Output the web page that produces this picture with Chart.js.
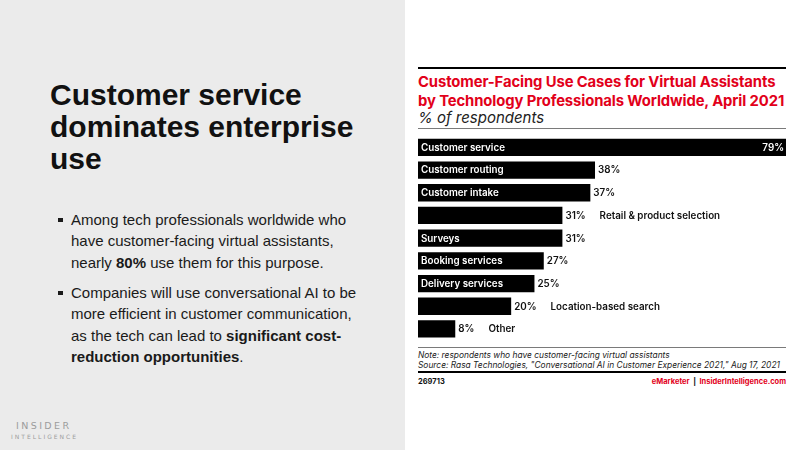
<!DOCTYPE html>
<html>
<head>
<meta charset="utf-8">
<script src="https://cdn.jsdelivr.net/npm/chart.js@4.4.1/dist/chart.umd.min.js"></script>
<style>
    html, body { margin: 0; padding: 0; }
    body { width: 800px; height: 450px; overflow: hidden; position: relative; background: #fff; }
    .left { position: absolute; left: 0; top: 0; width: 405px; height: 450px; background: #ebebeb; font-family: "Liberation Sans", Arial, sans-serif; color: #111; }
    .headline { position: absolute; left: 50px; top: 79px; font-size: 30px; font-weight: bold; line-height: 32px; }
    .bullets { position: absolute; left: 71px; top: 208.5px; width: 290px; font-size: 15px; line-height: 21.5px; color: #1a1a1a; }
    .bullets p { margin: 0 0 8.5px 0; position: relative; }
    .bullets p::before { content: ""; position: absolute; left: -13px; top: 9px; width: 4.5px; height: 4.5px; background: #1a1a1a; }
    .logo1 { position: absolute; left: 16px; top: 420px; font-size: 9.5px; letter-spacing: 2.4px; color: #9c9c9c; font-family: "DejaVu Sans", sans-serif; }
    .logo2 { position: absolute; left: 11px; top: 432.5px; font-size: 6px; letter-spacing: 2px; color: #9c9c9c; font-family: "DejaVu Sans", sans-serif; }
    .right { position: absolute; left: 405px; top: 0; width: 395px; height: 450px; background: #fff; }
    .chart-text { font-family: Inter, "Noto Sans", sans-serif; }
    .rule { position: absolute; left: 418px; width: 368px; }
    .title { position: absolute; left: 418px; top: 72.8px; font-size: 14.8px; font-weight: 700; line-height: 19px; color: #e2001a; white-space: nowrap; letter-spacing: -0.1px; }
    .subtitle { position: absolute; left: 418px; top: 107.5px; font-size: 15px; font-style: italic; color: #222; white-space: nowrap; }
    .note { position: absolute; left: 418px; top: 350px; font-size: 8.4px; font-style: italic; line-height: 10px; color: #222; white-space: nowrap; }
    .chartid { position: absolute; left: 418px; top: 376.5px; font-size: 7.5px; font-weight: 700; color: #111; }
    .brand { position: absolute; right: 14px; top: 376.5px; font-size: 7.5px; font-weight: 700; color: #111; }
    .brand .red { color: #e2001a; }
    .chart-box { position: absolute; left: 418px; top: 135.6px; width: 368px; height: 204.3px; }
</style>
</head>
<body>
<div class="left">
    <div class="headline">Customer service<br>dominates enterprise<br>use</div>
    <div class="bullets">
        <p>Among tech professionals worldwide who have customer-facing virtual assistants, nearly <b>80%</b> use them for this purpose.</p>
        <p>Companies will use conversational AI to be more efficient in customer communication, as the tech can lead to <b>significant cost-reduction opportunities</b>.</p>
    </div>
    <div class="logo1">INSIDER</div>
    <div class="logo2">INTELLIGENCE</div>
</div>
<div class="right"></div>

<div class="rule" style="top:67px;height:2px;background:#000;"></div>
<div class="title chart-text">Customer-Facing Use Cases for Virtual Assistants<br>by Technology Professionals Worldwide, April 2021</div>
<div class="subtitle chart-text">% of respondents</div>
<div class="rule" style="top:128px;height:1px;background:#7a7a7a;"></div>

<div class="chart-box"><canvas id="useCasesChart"></canvas></div>

<div class="rule" style="top:347px;height:1px;background:#7a7a7a;"></div>
<div class="note chart-text">Note: respondents who have customer-facing virtual assistants<br>Source: Rasa Technologies, "Conversational AI in Customer Experience 2021," Aug 17, 2021</div>
<div class="rule" style="top:371px;height:2px;background:#000;"></div>
<div class="chartid chart-text">269713</div>
<div class="brand chart-text"><span class="red">eMarketer</span> &nbsp;|&nbsp; <span class="red">InsiderIntelligence.com</span></div>

<script>
const categories = [
    'Customer service',
    'Customer routing',
    'Customer intake',
    'Retail & product selection',
    'Surveys',
    'Booking services',
    'Delivery services',
    'Location-based search',
    'Other'
];
const shares = [79, 38, 37, 31, 31, 27, 25, 20, 8];

// labels that sit to the right of the value instead of inside the bar
const outsideLabels = ['Retail & product selection', 'Location-based search', 'Other'];

const barLabels = {
    id: 'barLabels',
    afterDatasetsDraw(chart) {
        const ctx = chart.ctx;
        const meta = chart.getDatasetMeta(0);
        const maxValue = Math.max(...shares);
        ctx.save();
        ctx.font = '600 9.8px Inter, "Noto Sans", sans-serif';
        ctx.textBaseline = 'middle';
        meta.data.forEach((bar, i) => {
            const value = shares[i] + '%';
            const left = bar.base;
            const right = bar.x;
            const y = bar.y + 0.5;
            let afterValue;
            if (shares[i] === maxValue) {
                ctx.fillStyle = '#fff';
                ctx.textAlign = 'right';
                ctx.fillText(value, right - 2, y);
                afterValue = right;
            } else {
                ctx.fillStyle = '#111';
                ctx.textAlign = 'left';
                ctx.fillText(value, right + 3, y);
                afterValue = right + 3 + ctx.measureText(value).width;
            }
            ctx.textAlign = 'left';
            if (outsideLabels.includes(categories[i])) {
                ctx.fillStyle = '#111';
                ctx.fillText(categories[i], afterValue + 14, y);
            } else {
                ctx.fillStyle = '#fff';
                ctx.fillText(categories[i], left + 3, y);
            }
        });
        ctx.restore();
    }
};

const chart = new Chart(document.getElementById('useCasesChart'), {
    type: 'bar',
    data: {
        labels: categories,
        datasets: [{
            data: shares,
            backgroundColor: '#000',
            borderWidth: 0,
            barPercentage: 0.76,
            categoryPercentage: 1
        }]
    },
    options: {
        indexAxis: 'y',
        responsive: true,
        maintainAspectRatio: false,
        animation: false,
        layout: { padding: 0 },
        plugins: {
            legend: { display: false },
            tooltip: { enabled: false }
        },
        scales: {
            x: { display: false, min: 0, max: 79 },
            y: { display: false }
        }
    },
    plugins: [barLabels]
});
</script>
</body>
</html>
